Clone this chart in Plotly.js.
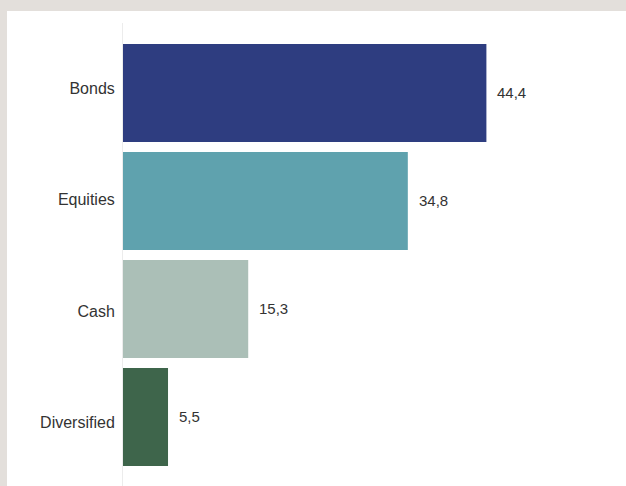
<!DOCTYPE html>
<html>
<head>
<meta charset="utf-8">
<script src="https://cdn.plot.ly/plotly-3.0.1.min.js"></script>
<style>
  html, body { margin: 0; padding: 0; background: #e3dfdb; width: 626px; height: 486px; overflow: hidden; }
  #chart { position: absolute; left: 7px; top: 11px; width: 619px; height: 475px; background: #ffffff; }
</style>
</head>
<body>
<div id="chart"></div>
<script>
const categories = ['Bonds', 'Equities', 'Cash', 'Diversified'];
const values = [44.4, 34.8, 15.3, 5.5];
const colors = ['#2e3d80', '#5fa2ae', '#abbfb7', '#3e654b'];
const valueLabels = values.map(v => v.toFixed(1).replace('.', ','));

const bars = {
  type: 'bar',
  orientation: 'h',
  x: values,
  y: categories,
  marker: { color: colors, line: { width: 0 } },
  width: 0.907,
  hoverinfo: 'skip'
};

const labelTrace = {
  type: 'scatter',
  mode: 'markers',
  x: categories.map(() => 0),
  y: categories,
  yaxis: 'y2',
  marker: { opacity: 0, size: 1 },
  hoverinfo: 'skip'
};

const annotations = categories.map((c, i) => ({
  x: values[i],
  y: c,
  xref: 'x',
  yref: 'y',
  text: valueLabels[i],
  showarrow: false,
  xanchor: 'left',
  yanchor: 'middle',
  xshift: 9,
  font: { family: 'Liberation Sans, Arial, sans-serif', size: 15, color: '#333333' }
}));

const layout = {
  width: 619,
  height: 475,
  margin: { l: 116, r: 26, t: 12, b: 0, pad: 0 },
  paper_bgcolor: '#ffffff',
  plot_bgcolor: '#ffffff',
  showlegend: false,
  font: { family: 'Liberation Sans, Arial, sans-serif', size: 15, color: '#333333' },
  xaxis: {
    range: [0, 58.28],
    showgrid: false,
    zeroline: false,
    showline: false,
    showticklabels: false,
    ticks: ''
  },
  yaxis: {
    type: 'category',
    categoryarray: categories,
    categoryorder: 'array',
    range: [3.639, -0.648],
    showgrid: false,
    zeroline: false,
    showline: true,
    linecolor: '#ececec',
    linewidth: 1,
    showticklabels: false,
    ticks: ''
  },
  yaxis2: {
    type: 'category',
    categoryarray: categories,
    categoryorder: 'array',
    overlaying: 'y',
    side: 'left',
    range: [3.567, -0.582],
    showgrid: false,
    zeroline: false,
    showline: false,
    ticks: 'outside',
    ticklen: 4,
    tickcolor: 'rgba(0,0,0,0)',
    tickfont: { family: 'Liberation Sans, Arial, sans-serif', size: 16, color: '#333333' }
  },
  annotations: annotations
};

Plotly.newPlot('chart', [bars, labelTrace], layout, { displayModeBar: false, staticPlot: true });
</script>
</body>
</html>
